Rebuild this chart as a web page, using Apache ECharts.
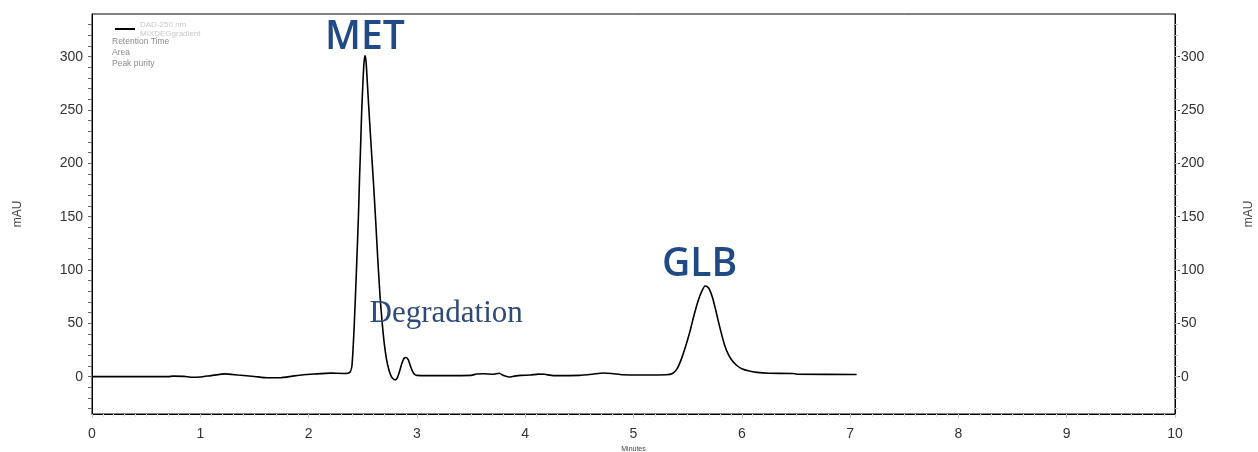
<!DOCTYPE html>
<html>
<head>
<meta charset="utf-8">
<script src="https://cdn.jsdelivr.net/npm/echarts@6/dist/echarts.min.js"></script>
<style>
  html, body { margin: 0; padding: 0; background: #fff; }
  #chart { width: 1258px; height: 452px; }
</style>
</head>
<body>
<div id="chart"></div>
<script>
// Retention time (minutes) of each sample point of the DAD trace
const timeMin = [
  0.00, 0.70, 0.75, 0.85, 0.93, 1.00, 1.10, 1.23, 1.35, 1.50, 1.62, 1.74, 1.85, 1.95, 2.05, 2.20, 2.33,
  2.38, 2.40, 2.42, 2.44, 2.46, 2.47, 2.48, 2.49, 2.50, 2.51, 2.52, 2.53, 2.54, 2.55, 2.56, 2.58, 2.60,
  2.62, 2.64, 2.66, 2.68, 2.70, 2.72, 2.74, 2.76, 2.78, 2.80, 2.82, 2.84, 2.86, 2.88, 2.90, 2.92, 2.94,
  2.96, 2.98, 3.00, 3.10, 3.50, 3.55, 3.62, 3.70, 3.76, 3.80, 3.85, 3.90, 3.96, 4.05, 4.12, 4.18, 4.26,
  4.50, 4.62, 4.72, 4.80, 4.90, 5.10, 5.30, 5.36, 5.40, 5.44, 5.48, 5.52, 5.56, 5.60, 5.63, 5.66, 5.68,
  5.70, 5.73, 5.76, 5.80, 5.84, 5.88, 5.92, 5.96, 6.00, 6.06, 6.14, 6.25, 6.47, 6.51, 7.06
];
// Absorbance (mAU) at 250 nm for each time above
const absorbance = [
  0, 0, 0.5, 0.3, -0.6, -0.3, 1.0, 2.6, 1.5, 0.2, -1.0, -1.0, 0.5, 1.8, 2.5, 3.3, 3.0,
  4.0, 10, 45, 95, 150, 185, 215, 248, 272, 292, 301, 296, 280, 262, 245, 212, 180,
  145, 108, 75, 50, 30, 16, 7, 1, -2, -3, -1, 5, 12, 17, 18, 16, 10,
  5, 2, 1.2, 1.0, 1.2, 2.5, 2.8, 2.2, 3.2, 1.0, -0.3, 0.5, 1.2, 1.5, 2.4, 2.2, 1.0,
  1.2, 2.3, 3.5, 3.0, 1.8, 1.6, 1.8, 3.0, 7, 16, 28, 42, 58, 72, 80, 85, 84.5,
  82, 74, 62, 45, 30, 20, 14, 10, 7.5, 5.5, 4.0, 3.2, 3.0, 2.3, 2.1
];

// Axis tick values
const xTicks = [0, 1, 2, 3, 4, 5, 6, 7, 8, 9, 10];
const yMajorTicks = [0, 50, 100, 150, 200, 250, 300];
const yMinorTicks = [-30, -20, -10, 0, 10, 20, 30, 40, 50, 60, 70, 80, 90, 100, 110, 120, 130, 140, 150,
  160, 170, 180, 190, 200, 210, 220, 230, 240, 250, 260, 270, 280, 290, 300, 310, 320, 330];

// Peak annotations and where they sit (time, mAU)
const peakNames = ['MET', 'GLB'];
const peakAnchors = [[2.52, 318], [5.61, 105]];
const degradationName = 'Degradation';
const degradationAnchor = [3.27, 59];

const legendInfo = ['Retention Time', 'Area', 'Peak purity'];
const seriesName = 'DAD-250 nm\nMIXDEGgradient';

const Y_MIN = -35, Y_MAX = 340;

const chart = echarts.init(document.getElementById('chart'), null, { renderer: 'canvas' });

const pairs = timeMin.map((t, i) => [t, absorbance[i]]);

const labelFont = { fontFamily: 'Liberation Sans, Arial, sans-serif', fontSize: 14, color: '#333' };

chart.setOption({
  animation: false,
  backgroundColor: '#fff',
  grid: {
    left: 92, right: 83, top: 14, bottom: 38,
    outerBoundsMode: 'none',
    containLabel: false,
    show: true, borderColor: '#000', borderWidth: 1
  },
  legend: {
    left: 110, top: 15,
    orient: 'vertical',
    itemWidth: 20, itemHeight: 10, itemGap: 2,
    icon: 'path://M0,5 L20,5 L20,7 L0,7 Z',
    textStyle: { fontFamily: 'Liberation Sans, Arial, sans-serif', fontSize: 8, color: '#c8c8c8', lineHeight: 9 },
    data: [{ name: seriesName, itemStyle: { color: '#000' } }]
  },
  graphic: legendInfo.map((txt, i) => ({
    type: 'text', left: 112, top: 37 + i * 11,
    style: { text: txt, fontFamily: 'Liberation Sans, Arial, sans-serif', fontSize: 8.5, fill: '#8a8a8a' }
  })),
  xAxis: {
    type: 'value', min: 0, max: 10, interval: 1,
    name: 'Minutes', nameLocation: 'middle', nameGap: 30,
    nameTextStyle: { fontFamily: 'Liberation Sans, Arial, sans-serif', fontSize: 7, color: '#444' },
    axisLine: { show: true, onZero: false, lineStyle: { color: '#000', width: 1 } },
    axisTick: { show: true, length: 4, lineStyle: { color: '#c4c4c4' } },
    minorTick: { show: true, splitNumber: 10, length: 3, lineStyle: { color: '#dcdcdc' } },
    axisLabel: Object.assign({ margin: 13, customValues: xTicks }, labelFont),
    splitLine: { show: false }
  },
  yAxis: [
    {
      type: 'value', min: Y_MIN, max: Y_MAX, position: 'left',
      name: 'mAU', nameLocation: 'middle', nameGap: 68, nameRotate: 90,
      nameTextStyle: { fontFamily: 'Liberation Sans, Arial, sans-serif', fontSize: 12, color: '#444' },
      axisLine: { show: true, onZero: false, lineStyle: { color: '#000' } },
      axisTick: { show: true, length: 4, customValues: yMinorTicks, lineStyle: { color: '#666' } },
      axisLabel: Object.assign({ margin: 9, customValues: yMajorTicks }, labelFont),
      splitLine: { show: false }
    },
    {
      type: 'value', min: Y_MIN, max: Y_MAX, position: 'right',
      name: 'mAU', nameLocation: 'middle', nameGap: 68, nameRotate: 90,
      nameTextStyle: { fontFamily: 'Liberation Sans, Arial, sans-serif', fontSize: 12, color: '#444' },
      axisLine: { show: true, onZero: false, lineStyle: { color: '#000' } },
      axisTick: { show: true, length: 5, customValues: yMajorTicks, lineStyle: { color: '#333' } },
      axisLabel: Object.assign({ margin: 6, customValues: yMajorTicks }, labelFont),
      splitLine: { show: false }
    },
    {
      type: 'value', min: Y_MIN, max: Y_MAX, position: 'right',
      axisLine: { show: false, onZero: false },
      axisTick: { show: true, length: 3, customValues: yMinorTicks, lineStyle: { color: '#c8c8c8' } },
      axisLabel: { show: false },
      splitLine: { show: false }
    }
  ],
  series: [
    {
      name: seriesName,
      type: 'line',
      data: pairs,
      xAxisIndex: 0, yAxisIndex: 0,
      smooth: 0.2,
      showSymbol: false,
      lineStyle: { color: '#000', width: 1.6 },
      itemStyle: { color: '#000' },
      markPoint: {
        symbol: 'circle', symbolSize: 0, silent: true,
        data: peakNames.map((n, i) => ({
          coord: peakAnchors[i],
          label: {
            show: true, position: 'inside', formatter: n,
            fontFamily: 'Open Sans, Lato, sans-serif', fontWeight: 600, fontSize: 39, color: '#1f4a85'
          }
        })).concat([{
          coord: degradationAnchor,
          label: {
            show: true, position: 'inside', formatter: degradationName,
            fontFamily: 'Liberation Serif, Times New Roman, serif', fontSize: 31, color: '#2d4a78'
          }
        }])
      }
    }
  ]
});
</script>
</body>
</html>
